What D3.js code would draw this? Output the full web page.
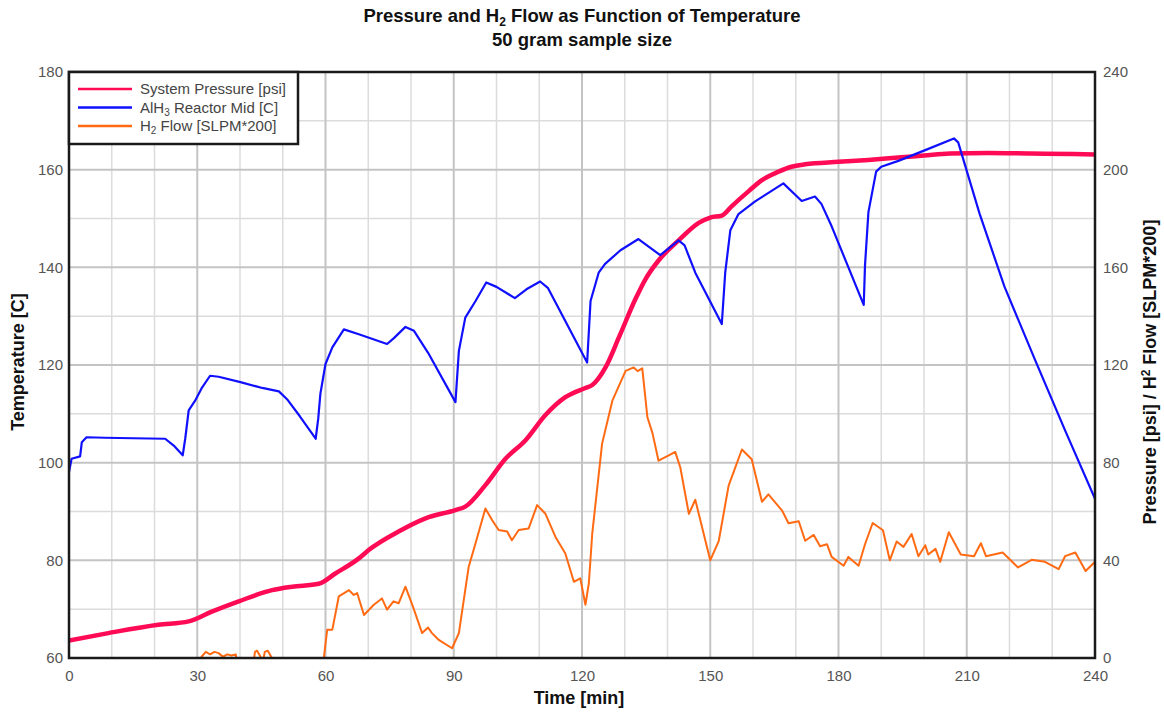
<!DOCTYPE html>
<html>
<head>
<meta charset="utf-8">
<script src="https://cdn.jsdelivr.net/npm/d3@7"></script>
<style>
  body { margin: 0; background: #fff; }
  svg { display: block; }
  .tick-label { font-family: "Liberation Sans", Arial, sans-serif; font-size: 15px; fill: #555; }
  .title { font-family: "Liberation Sans", Arial, sans-serif; font-weight: bold; font-size: 18.5px; fill: #111; }
  .axis-label { font-family: "Liberation Sans", Arial, sans-serif; font-weight: bold; font-size: 18px; fill: #111; }
  .legend-text { font-family: "Liberation Sans", Arial, sans-serif; font-size: 15px; fill: #444; }
</style>
</head>
<body>
<div id="wrapper"></div>
<script>
// Temperature, AlH3 reactor mid [C] against time [min]
const tempTime = [0,0.6,2.6,3,4.1,8.4,15,22.5,24.5,26.6,27.2,28,29.5,31,33,35,40.1,45.2,49.1,51,54,57.7,58.3,58.8,60,61.6,64.3,67.8,74.4,76,78.7,80.7,84,90.4,91.2,92.7,95.1,97.6,100,104.3,107,110.2,112,121.2,122,123.9,125.4,129,133.2,138.3,142.6,144,146.5,152.7,153.5,154.7,156.6,160.5,167.1,171.4,174.5,176,178.4,185.9,186.2,187,188.8,190,194,200,207,208,213,218.8,226,233,240];
const tempValues = [98.1,100.8,101.3,104.2,105.2,105.1,105.0,104.9,103.5,101.5,105,110.7,112.7,115.2,117.8,117.6,116.5,115.3,114.6,113,109.5,104.9,109,114.1,120.2,123.6,127.3,126.3,124.3,125.5,127.8,127,122.5,112.4,122.9,129.7,133.1,136.9,136,133.7,135.5,137.1,135.8,120.5,133.1,138.9,140.7,143.5,145.8,142.5,145.5,144.5,138.9,128.4,138.9,147.6,150.9,153.5,157.2,153.6,154.5,153,148.4,132.3,140.4,151.3,159.6,160.6,161.8,163.9,166.4,165.6,151,136.1,121,106.6,92.6];

// System pressure [psi] against time [min]
const pressTime = [0,9.2,20.9,28,33.4,39.7,47.5,52.2,58.4,62.3,67.8,70.1,77.1,83.4,90.4,92.7,97.4,102.1,106.8,111.4,116.1,120.8,122.4,125.5,128.8,132.5,134.8,138,142.6,147.3,150,152.7,155,159,162,166,169,172.2,180,187,194,200,206,215,225,235,240];
const pressValues = [7.2,10.2,13.6,15,19,23.2,27.8,29.2,30.4,34.6,40.8,44.2,51.8,57.2,60.6,62,70.8,81.6,89.2,99.4,106.8,110.6,111.8,119,132,147,155,163,171,178.2,180.4,181.2,185,191.2,195.6,199.2,201.2,202.2,203.2,204,205,205.8,206.6,206.8,206.6,206.4,206.2];

// H2 flow [SLPM*200] against time [min]
const flowTime = [0,30.5,31,32,33,34,35,36,37,38,39,39.5,43,43.5,44,44.8,45.3,45.8,46.5,47.3,47.8,59.2,59.6,60.4,61.6,63.1,65.5,66.6,67.4,69,71.3,73.2,74.4,75.9,77.1,78.7,80.3,82.6,84,84.9,86.5,89.6,91.2,93.5,95.1,97.4,99,100.5,102.5,103.6,105.2,107.5,109.5,111.4,113.8,116.1,118.1,119.6,120.8,121.6,122.4,124.7,127.1,130.2,132.1,133,134.1,135.3,136.5,137.9,140.3,141.8,143,145,146.5,150,152,154.3,157.4,159.7,162.1,163.6,166.8,168.3,170.7,172.2,174.2,175.7,177.3,178.4,181.2,182.3,184.7,186.2,188,190.4,192,193.6,195.2,197.1,198.7,200.3,201,202.7,203.8,205.8,208.6,211.7,213.3,214.5,218.4,222,225.2,228.3,231.5,233,235.4,237.8,240];
const flowValues = [-6,-6,0.5,2.5,1.5,2.5,2,0.5,1.5,1,1.5,-4,-4,2.5,3,0.5,-2,2.5,3,0.5,-4,-4,0,11.6,11.6,25.2,27.8,25.8,26.6,17.6,21.8,24.4,19.8,23.2,22.4,29.2,21.8,10.2,12.5,10.2,7.4,4,10.2,37.4,47,61.2,56.4,52.4,51.8,48.2,52.4,53,62.6,59.2,49.6,42.8,31.2,32.6,21.8,30.6,51,87.8,105.4,117.6,119,117.5,118.6,98.6,92,80.8,83,84.4,78,59,64.8,40,48,70.6,85.4,81.4,64,67,60.4,55.2,56,48,50.4,45.8,46.6,41.4,37.8,41.4,37.8,46.6,55.3,52.3,40,47.7,45.5,50.8,41.7,46.2,42.4,44.7,39.4,51.5,42.4,41.7,47,41.7,43.2,37.1,40.2,39.4,36.4,41.7,43.2,35.6,39.4];

const leftTicks = [60, 80, 100, 120, 140, 160, 180];
const rightTicks = [0, 40, 80, 120, 160, 200, 240];
const timeTicks = [0, 30, 60, 90, 120, 150, 180, 210, 240];

const seriesNames = ["System Pressure [psi]", "AlH3 Reactor Mid [C]", "H2 Flow [SLPM*200]"];
const seriesColors = ["#ff0a54", "#1010ff", "#ff6a13"];

// dimensions
const width = 1164;
const height = 712;
const margin = { top: 72, right: 69, bottom: 54, left: 69 };
const boundedWidth = width - margin.left - margin.right;
const boundedHeight = height - margin.top - margin.bottom;

const svg = d3.select("#wrapper").append("svg")
    .attr("width", width)
    .attr("height", height);

const bounds = svg.append("g")
    .attr("transform", `translate(${margin.left},${margin.top})`);

// scales
const xScale = d3.scaleLinear().domain([0, 240]).range([0, boundedWidth]);
const yLeft = d3.scaleLinear().domain([60, 180]).range([boundedHeight, 0]);
const yRight = d3.scaleLinear().domain([0, 240]).range([boundedHeight, 0]);

// grid: minor every 10, major on the labelled ticks
const minorX = d3.range(0, 241, 10).filter(d => d % 30 !== 0);
const minorY = d3.range(60, 181, 10).filter(d => d % 20 !== 0);

bounds.append("g").selectAll("line").data(minorX).join("line")
    .attr("x1", xScale).attr("x2", xScale)
    .attr("y1", 0).attr("y2", boundedHeight)
    .attr("stroke", "#dcdcdc").attr("stroke-width", 1.5);
bounds.append("g").selectAll("line").data(minorY).join("line")
    .attr("y1", yLeft).attr("y2", yLeft)
    .attr("x1", 0).attr("x2", boundedWidth)
    .attr("stroke", "#dcdcdc").attr("stroke-width", 1.5);
bounds.append("g").selectAll("line").data(timeTicks).join("line")
    .attr("x1", xScale).attr("x2", xScale)
    .attr("y1", 0).attr("y2", boundedHeight)
    .attr("stroke", "#c4c4c4").attr("stroke-width", 2);
bounds.append("g").selectAll("line").data(leftTicks).join("line")
    .attr("y1", yLeft).attr("y2", yLeft)
    .attr("x1", 0).attr("x2", boundedWidth)
    .attr("stroke", "#c4c4c4").attr("stroke-width", 2);

// lines
bounds.append("clipPath").attr("id", "plot-clip")
  .append("rect")
    .attr("width", boundedWidth).attr("height", boundedHeight);

const plot = bounds.append("g").attr("clip-path", "url(#plot-clip)");

const flowLine = d3.line()
    .x(i => xScale(flowTime[i]))
    .y(i => yRight(flowValues[i]));
plot.append("path")
    .attr("d", flowLine(d3.range(flowTime.length)))
    .attr("fill", "none")
    .attr("stroke", seriesColors[2])
    .attr("stroke-width", 2)
    .attr("stroke-linejoin", "round");

const pressLine = d3.line()
    .x(i => xScale(pressTime[i]))
    .y(i => yRight(pressValues[i]))
    .curve(d3.curveMonotoneX);
plot.append("path")
    .attr("d", pressLine(d3.range(pressTime.length)))
    .attr("fill", "none")
    .attr("stroke", seriesColors[0])
    .attr("stroke-width", 4.5)
    .attr("stroke-linejoin", "round");

const tempLine = d3.line()
    .x(i => xScale(tempTime[i]))
    .y(i => yLeft(tempValues[i]));
plot.append("path")
    .attr("d", tempLine(d3.range(tempTime.length)))
    .attr("fill", "none")
    .attr("stroke", seriesColors[1])
    .attr("stroke-width", 2.2)
    .attr("stroke-linejoin", "round");

// frame
bounds.append("rect")
    .attr("width", boundedWidth).attr("height", boundedHeight)
    .attr("fill", "none")
    .attr("stroke", "#1a1a1a")
    .attr("stroke-width", 2.5);

// axes
const leftAxis = bounds.append("g")
    .call(d3.axisLeft(yLeft).tickValues(leftTicks).tickSize(0).tickPadding(6));
const rightAxis = bounds.append("g")
    .attr("transform", `translate(${boundedWidth},0)`)
    .call(d3.axisRight(yRight).tickValues(rightTicks).tickSize(0).tickPadding(8));
const bottomAxis = bounds.append("g")
    .attr("transform", `translate(0,${boundedHeight})`)
    .call(d3.axisBottom(xScale).tickValues(timeTicks).tickSize(0).tickPadding(12));

[leftAxis, rightAxis, bottomAxis].forEach(axis => {
  axis.select(".domain").remove();
  axis.selectAll("text").attr("class", "tick-label").attr("fill", null);
});

// titles
svg.append("text").attr("class", "title")
    .attr("x", width / 2).attr("y", 22)
    .attr("text-anchor", "middle")
    .call(t => {
      t.append("tspan").text("Pressure and H");
      t.append("tspan").attr("font-size", 12).attr("dy", 4).text("2");
      t.append("tspan").attr("dy", -4).text(" Flow as Function of Temperature");
    });
svg.append("text").attr("class", "title")
    .attr("x", width / 2).attr("y", 46)
    .attr("text-anchor", "middle")
    .text("50 gram sample size");

svg.append("text").attr("class", "axis-label")
    .attr("x", margin.left + boundedWidth / 2 - 3).attr("y", 704)
    .attr("text-anchor", "middle")
    .text("Time [min]");

svg.append("text").attr("class", "axis-label")
    .attr("transform", `translate(24,${margin.top + boundedHeight / 2 - 3}) rotate(-90)`)
    .attr("text-anchor", "middle")
    .text("Temperature [C]");

svg.append("text").attr("class", "axis-label")
    .attr("transform", `translate(1156,${margin.top + boundedHeight / 2 + 7}) rotate(-90)`)
    .attr("text-anchor", "middle")
    .call(t => {
      t.append("tspan").text("Pressure [psi] / H");
      t.append("tspan").attr("font-size", 12).attr("dy", -6).text("2");
      t.append("tspan").attr("dy", 6).text(" Flow [SLPM*200]");
    });

// legend
const legend = bounds.append("g");
legend.append("rect")
    .attr("x", 0).attr("y", 0)
    .attr("width", 229).attr("height", 72)
    .attr("fill", "#fff")
    .attr("stroke", "#1a1a1a")
    .attr("stroke-width", 2.5);

const legendRows = legend.selectAll(".row").data(seriesNames).join("g")
    .attr("class", "row")
    .attr("transform", (d, i) => `translate(0,${17 + i * 18.5})`);

legendRows.append("line")
    .attr("x1", 9).attr("x2", 63)
    .attr("stroke", (d, i) => seriesColors[i])
    .attr("stroke-width", 2.5);

legendRows.append("text").attr("class", "legend-text")
    .attr("x", 71).attr("dy", "0.35em")
    .each(function(d, i) {
      const t = d3.select(this);
      if (i === 0) { t.text(d); return; }
      const sub = i === 1 ? "3" : "2";
      const head = i === 1 ? "AlH" : "H";
      const rest = i === 1 ? " Reactor Mid [C]" : " Flow [SLPM*200]";
      t.append("tspan").text(head);
      t.append("tspan").attr("font-size", 10).attr("dy", 3).text(sub);
      t.append("tspan").attr("dy", -3).text(rest);
    });
</script>
</body>
</html>
